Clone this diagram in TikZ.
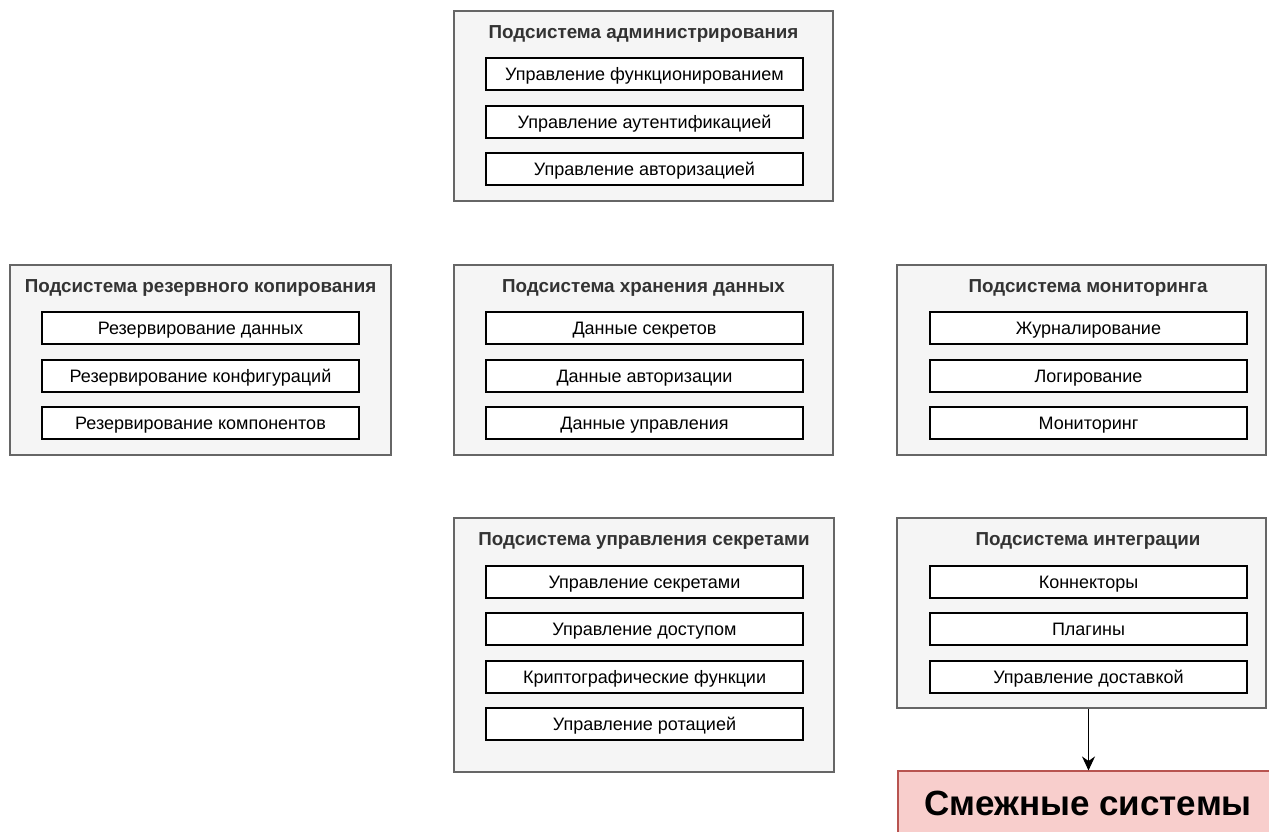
\documentclass[tikz,border=0pt]{standalone}
\usepackage{fontspec}
\setmainfont{Liberation Sans}
\usetikzlibrary{arrows.meta}
\definecolor{grpfill}{HTML}{F5F5F5}
\definecolor{grpline}{HTML}{666666}
\definecolor{grptext}{HTML}{333333}
\definecolor{extfill}{HTML}{F8CECC}
\definecolor{extline}{HTML}{B85450}
\tikzset{
  group/.style={draw=grpline, fill=grpfill, line width=1.1pt, inner sep=0pt},
  gtitle/.style={text=grptext, font=\bfseries\fontsize{18.8}{21}\selectfont,
    inner sep=0pt, anchor=base},
  item/.style={draw=black, fill=white, line width=1.1pt, minimum width=317pt,
    minimum height=32pt, inner sep=0pt, text height=14pt, text depth=2pt,
    font=\fontsize{18}{21}\selectfont},
  extsys/.style={draw=extline, fill=extfill, line width=1.1pt, inner sep=0pt,
    text height=26pt, text depth=2pt, font=\bfseries\fontsize{35}{40}\selectfont},
  link/.style={line width=1.1pt, -{Stealth[length=14pt,width=13pt]}}
}
\begin{document}
\begin{tikzpicture}[x=1pt,y=-1pt]
\clip (0,0) rectangle (1269,831);
\fill[white] (0,0) rectangle (1269,831);

% administration subsystem
\node[group, minimum width=379pt, minimum height=190pt] (adm) at (643.5,106) {};
\node[gtitle] (admT) at (643.5,38) {Подсистема администрирования};
\node[item] (a1) at (644.5,74) {Управление функционированием};
\node[item] (a2) at (644.5,122) {Управление аутентификацией};
\node[item] (a3) at (644.5,169) {Управление авторизацией};

% backup subsystem
\node[group, minimum width=381pt, minimum height=190pt] (bak) at (200.5,360) {};
\node[gtitle] (bakT) at (200.5,292) {Подсистема резервного копирования};
\node[item] (b1) at (200.5,328) {Резервирование данных};
\node[item] (b2) at (200.5,376) {Резервирование конфигураций};
\node[item] (b3) at (200.5,423) {Резервирование компонентов};

% storage subsystem
\node[group, minimum width=379pt, minimum height=190pt] (sto) at (643.5,360) {};
\node[gtitle] (stoT) at (643.5,292) {Подсистема хранения данных};
\node[item] (s1) at (644.5,328) {Данные секретов};
\node[item] (s2) at (644.5,376) {Данные авторизации};
\node[item] (s3) at (644.5,423) {Данные управления};

% monitoring subsystem
\node[group, minimum width=369pt, minimum height=190pt] (mon) at (1081.5,360) {};
\node[gtitle] (monT) at (1088,292) {Подсистема мониторинга};
\node[item] (m1) at (1088.5,328) {Журналирование};
\node[item] (m2) at (1088.5,376) {Логирование};
\node[item] (m3) at (1088.5,423) {Мониторинг};

% secrets management subsystem
\node[group, minimum width=380pt, minimum height=254pt] (sec) at (644,645) {};
\node[gtitle] (secT) at (644,545) {Подсистема управления секретами};
\node[item] (k1) at (644.5,582) {Управление секретами};
\node[item] (k2) at (644.5,629) {Управление доступом};
\node[item] (k3) at (644.5,677) {Криптографические функции};
\node[item] (k4) at (644.5,724) {Управление ротацией};

% integration subsystem
\node[group, minimum width=369pt, minimum height=190pt] (int) at (1081.5,613) {};
\node[gtitle] (intT) at (1088,545) {Подсистема интеграции};
\node[item] (i1) at (1088.5,582) {Коннекторы};
\node[item] (i2) at (1088.5,629) {Плагины};
\node[item] (i3) at (1088.5,677) {Управление доставкой};

% adjacent systems
\node[extsys, minimum width=380pt, minimum height=64pt] (ext) at (1088,803) {Смежные системы};

\draw[link] (i3.center |- int.south) -- (i3.center |- ext.north);
\end{tikzpicture}
\end{document}
